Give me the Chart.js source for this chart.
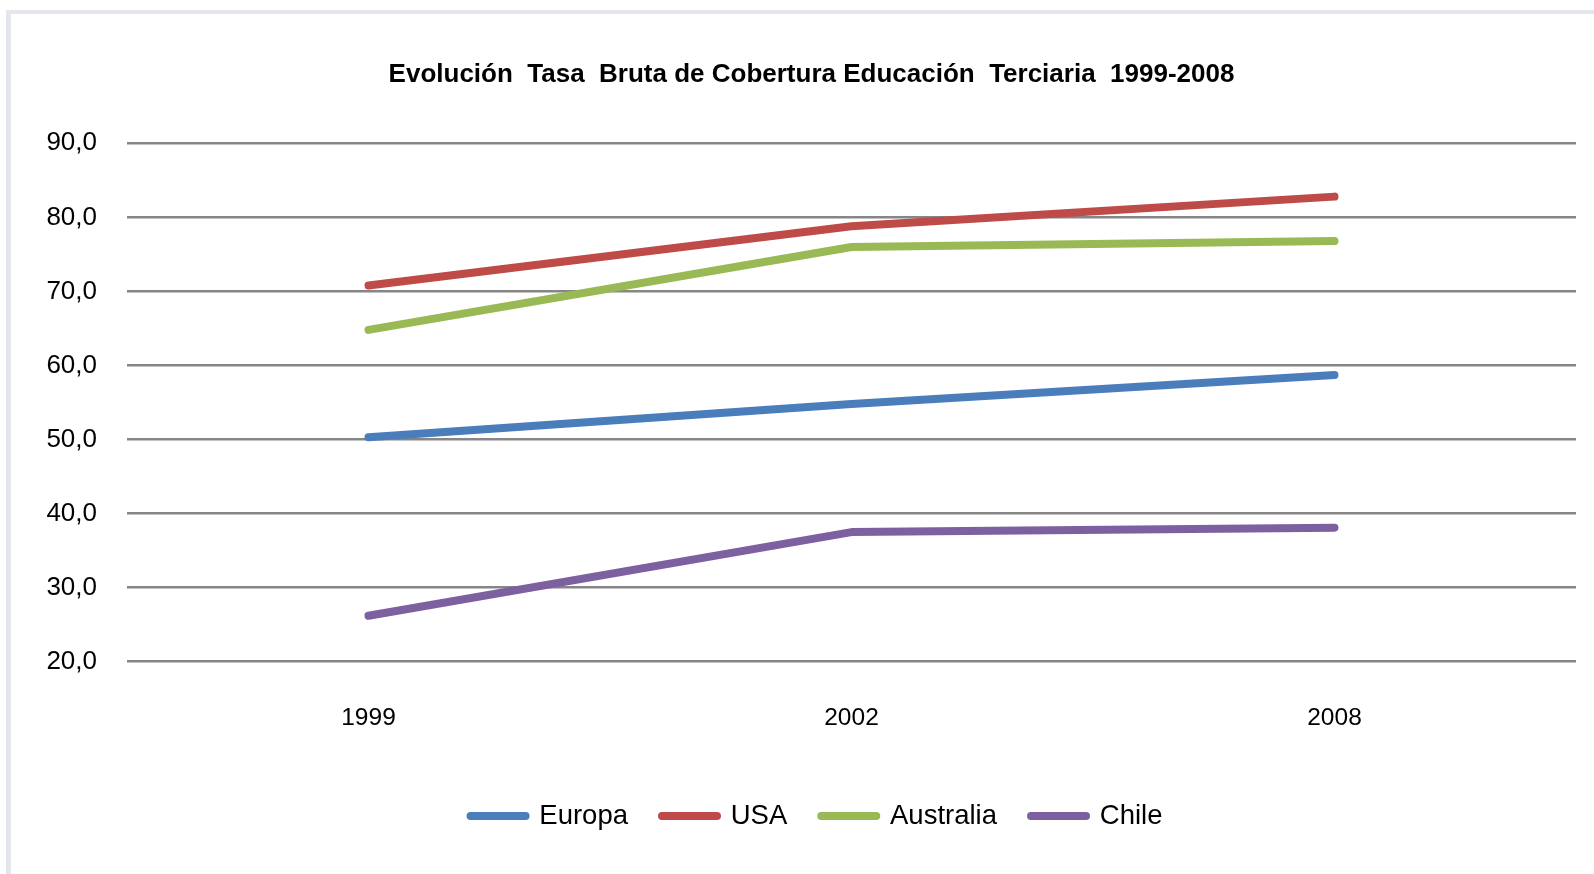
<!DOCTYPE html>
<html>
<head>
<meta charset="utf-8">
<script src="https://cdn.jsdelivr.net/npm/chart.js@4.4.1/dist/chart.umd.min.js"></script>
<style>
  html, body { margin: 0; padding: 0; background: #ffffff; overflow: hidden; width: 1594px; height: 874px; }
  #frame { position: absolute; left: 6px; top: 10px; width: 1700px; height: 1000px;
           border-left: 5px solid #e3e7eb; border-top: 4px solid #e3e7eb; box-sizing: border-box; }
  #c { position: absolute; left: 0; top: 0; }
</style>
</head>
<body>
<div id="frame"></div>
<canvas id="c" width="1594" height="874"></canvas>
<script>
const categories = ['1999', '2002', '2008'];
const europa    = [50.3, 54.8, 58.7];
const usa       = [70.8, 78.8, 82.8];
const australia = [64.8, 76.0, 76.8];
const chile     = [26.2, 37.5, 38.1];
const seriesNames = ['Europa', 'USA', 'Australia', 'Chile'];
const titleText = 'Evolución  Tasa  Bruta de Cobertura Educación  Terciaria  1999-2008';
const yMin = 20, yMax = 90, yStep = 10;

const FONT = "'Liberation Sans', Arial, sans-serif";
const colors = ['#4A7EBB', '#BE4B48', '#98B954', '#7D60A0'];
const seriesValues = [europa, usa, australia, chile];

const datasets = seriesNames.map((name, i) => ({
  label: name,
  data: seriesValues[i],
  borderColor: colors[i],
  backgroundColor: colors[i],
  borderWidth: 8,
  borderCapStyle: 'round',
  borderJoinStyle: 'round',
  pointRadius: 0,
  pointHoverRadius: 0,
  tension: 0,
  fill: false
}));

const legendShift = {
  id: 'legendShift',
  afterLayout(chart) {
    if (chart.legend) { chart.legend.left += 5; chart.legend.right += 5; }
  }
};

new Chart(document.getElementById('c'), {
  type: 'line',
  data: { labels: categories, datasets },
  plugins: [legendShift],
  options: {
    responsive: false,
    animation: false,
    devicePixelRatio: 1,
    layout: { padding: { left: 47, right: 18, top: 0, bottom: 34.3 } },
    plugins: {
      tooltip: { enabled: false },
      title: {
        display: true,
        text: titleText,
        color: '#000000',
        font: { family: FONT, size: 26, weight: 'bold', lineHeight: 1.2 },
        padding: { top: 59.4, bottom: 52.7 }
      },
      legend: {
        display: true,
        position: 'bottom',
        labels: {
          usePointStyle: true,
          pointStyle: 'line',
          pointStyleWidth: 55,
          padding: 34,
          color: '#000000',
          font: { family: FONT, size: 27.5 },
          generateLabels: (chart) =>
            Chart.defaults.plugins.legend.labels.generateLabels(chart).map((l, i) => ({
              ...l, lineCap: 'round', lineWidth: 8, strokeStyle: colors[i], fillStyle: colors[i], pointStyle: 'line'
            }))
        }
      }
    },
    scales: {
      x: {
        type: 'category',
        offset: true,
        grid: { display: false, drawTicks: false },
        border: { display: false },
        ticks: { color: '#000000', font: { family: FONT, size: 24.5 }, padding: 42, maxRotation: 0 },
        afterFit: (s) => { s.height = 106.5; }
      },
      y: {
        min: yMin,
        max: yMax,
        grid: { color: '#868686', lineWidth: 2.5, drawTicks: false },
        border: { display: false },
        ticks: {
          stepSize: yStep,
          color: '#000000',
          font: { family: FONT, size: 26 },
          padding: 30,
          callback: (v) => Number(v).toFixed(1).replace('.', ',')
        },
        afterFit: (s) => { s.width = 80; }
      }
    }
  }
});
</script>
</body>
</html>
